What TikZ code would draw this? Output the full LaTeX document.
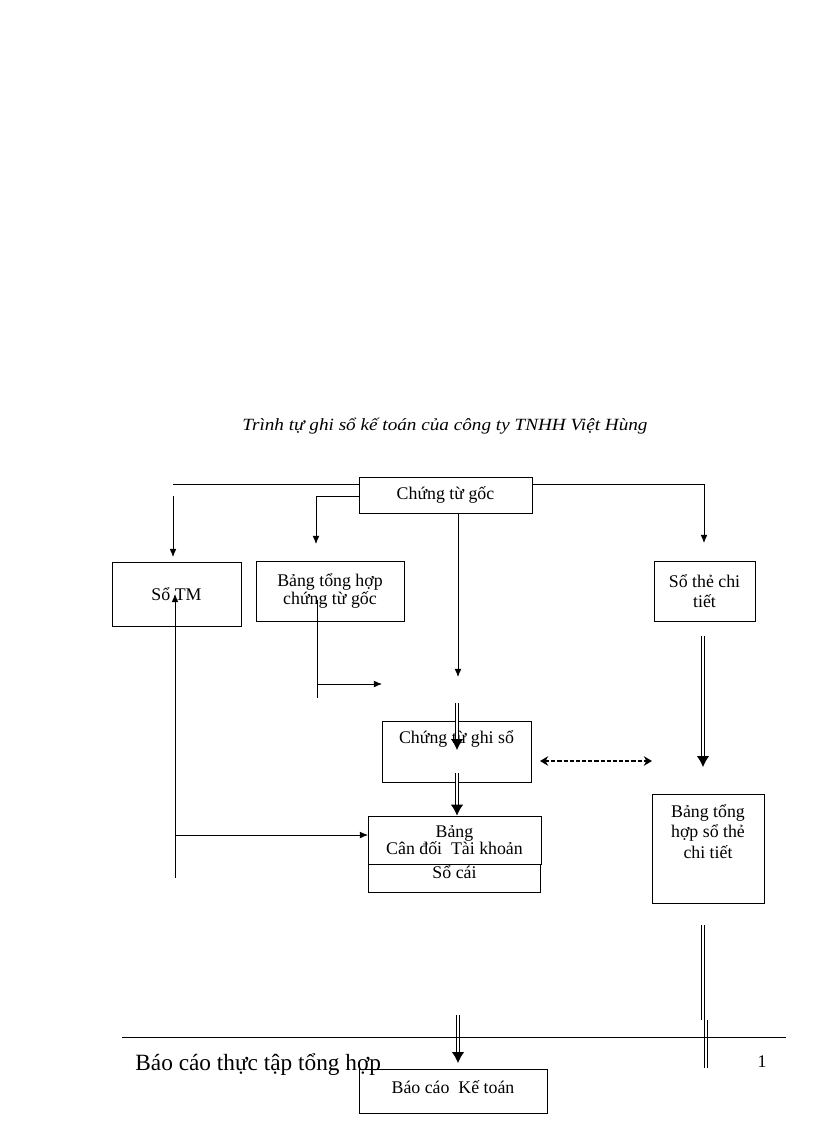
\documentclass[tikz,border=0pt]{standalone}
\usepackage{fontspec}
\setmainfont{Liberation Serif}
\usetikzlibrary{arrows,arrows.meta,positioning}
\newcommand{\pxu}{0.7295pt}

\tikzset{
  hop/.style={draw=black,line width=0.6pt,align=center,inner sep=2pt,font=\fontsize{13}{15}\selectfont},
  mui/.style={-{Latex[length=6pt,width=5pt]}},
  dbl/.style={double,double distance=1.1pt,line width=0.6pt,-{Latex[length=8pt,width=9pt]}},
  dbline/.style={double,double distance=1.1pt,line width=0.6pt},
}

\begin{document}
\begin{tikzpicture}[x=0.7295pt,y=-0.7295pt,line width=0.6pt]
\useasboundingbox (0,0) rectangle (816,1123);
\node[anchor=base,inner sep=0pt,font=\fontsize{12.5}{14}\selectfont\itshape] (tieude) at (445,430) {\scalebox{1.12}[1]{Trình tự ghi sổ kế toán của công ty TNHH Việt Hùng}};

\node[hop,minimum width=173*\pxu,minimum height=36*\pxu] (goc) at (445.5,495) {Chứng từ gốc};
\node[hop,minimum width=129*\pxu,minimum height=64*\pxu] (soTM) at (176.5,594) {Sổ TM};
\node[hop,minimum width=148*\pxu,minimum height=60*\pxu,font=\fontsize{13}{12.5}\selectfont] (bangTH) at (330,591) {Bảng tổng hợp\\chứng từ gốc};
\node[hop,minimum width=101*\pxu,minimum height=60*\pxu] (theCT) at (704.5,591) {Sổ thẻ chi\\tiết};
\node[hop,minimum width=149*\pxu,minimum height=61*\pxu,text height=11pt,text depth=23pt] (ghiso) at (456.5,751.5) {Chứng từ ghi sổ};
\node[hop,minimum width=173*\pxu,minimum height=48*\pxu,font=\fontsize{13}{12.5}\selectfont] (candoi) at (454.5,840) {Bảng\\Cân đối~ Tài khoản};
\node[hop,minimum width=172*\pxu,minimum height=28*\pxu,inner ysep=0pt,text height=9.5pt,text depth=10.5pt,below=0pt of candoi] (socai) {Sổ cái};
\node[hop,minimum width=112*\pxu,minimum height=109*\pxu,text depth=25pt] (thTH) at (708,848.5) {Bảng tổng\\hợp sổ thẻ\\chi tiết};
\node[hop,minimum width=188*\pxu,minimum height=44*\pxu,text height=10pt,text depth=7pt] (baocao) at (453,1091) {Báo cáo~ Kế toán};

% free ends
\coordinate (tl) at (173,484);
\coordinate (tm1) at (173,496);
\coordinate (tm2) at (173,557);
\coordinate (bt1) at (316,496);
\coordinate (bt4) at (316,544);
\coordinate (ct1) at (704,543);
\coordinate (tmb) at (175,878);
\coordinate (cd1) at (368,835);
\coordinate (bt2) at (317,600);
\coordinate (bt3) at (317,698);
\coordinate (mid) at (382,684);
\coordinate (c1) at (458,677);
\coordinate (d1) at (457,703);
\coordinate (d2) at (457,750);
\coordinate (d3) at (457,773);
\coordinate (d4) at (458,1015);
\coordinate (d5) at (458,1063);
\coordinate (nd1) at (540,761);
\coordinate (nd2) at (652,761);
\coordinate (r1) at (703,636);
\coordinate (r2) at (703,767);
\coordinate (r3) at (703,925);
\coordinate (r4) at (703,1020);
\coordinate (r5) at (706,1020);
\coordinate (r6) at (706,1068);

\draw (goc.west|-tl)--(tl);
\draw[mui] (tm1)--(tm2);
\draw[mui] (goc.west|-bt1)-|(bt4);
\draw[mui] (goc.east|-tl)-|(ct1);
\draw[mui] (tmb)--(tmb|-soTM.center);
\draw[mui] (tmb|-cd1)--(cd1);
\draw (bt2)--(bt3);
\draw[mui] (bt2|-mid)--(mid);
\draw[mui] (goc.south-|c1)--(c1);
\draw[dbl] (d1)--(d2);
\draw[dbl] (d3)--(candoi.north-|d3);
\draw[dbl] (d4)--(d5);
\draw[{Stealth[length=6pt,width=7pt]}-{Stealth[length=6pt,width=7pt]},line width=1.4pt,dash pattern=on 3pt off 1.5pt] (nd1)--(nd2);
\draw[dbl] (r1)--(r2);
\draw[dbline] (r3)--(r4);
\draw[dbline] (r5)--(r6);

% chan trang
\coordinate (k1) at (122,1037);
\coordinate (k2) at (786,1037);
\draw (k1)--(k2);
\node[anchor=base west,inner sep=0pt,font=\fontsize{17}{20}\selectfont] (chantrang) at (135,1070) {Báo cáo thực tập tổng hợp};
\node[anchor=base,inner sep=0pt,font=\fontsize{13}{15}\selectfont] (trang) at (762,1067) {1};
\end{tikzpicture}
\end{document}
